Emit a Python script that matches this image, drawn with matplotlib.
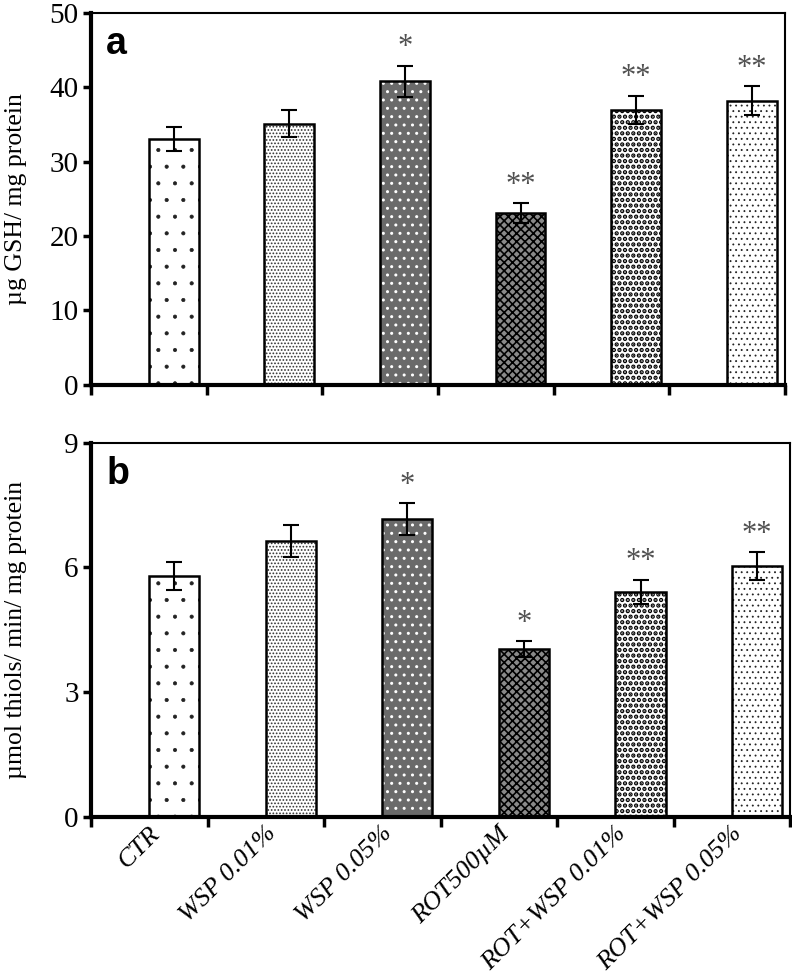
import matplotlib
matplotlib.use("Agg")
import matplotlib.pyplot as plt
import matplotlib.transforms as mtransforms
import numpy as np

categories = ["CTR", "WSP 0.01%", "WSP 0.05%", "ROT500\u00b5M", "ROT+WSP 0.01%", "ROT+WSP 0.05%"]
gsh_vals = [33.0, 35.1, 40.8, 23.1, 36.9, 38.2]
gsh_err = [1.6, 1.8, 2.1, 1.3, 1.9, 1.9]
gsh_sig = ["", "", "*", "**", "**", "**"]
thiol_vals = [5.79, 6.63, 7.16, 4.04, 5.41, 6.03]
thiol_err = [0.34, 0.39, 0.39, 0.19, 0.29, 0.34]
thiol_sig = ["", "", "*", "*", "**", "**"]
gsh_ticks = [0, 10, 20, 30, 40, 50]
thiol_ticks = [0, 3, 6, 9]

plt.rcParams['font.family'] = ['Liberation Serif', 'DejaVu Serif']

styles = [
    dict(face='white', hatch='.', hcolor='#222222', hlw=0.5),
    dict(face='white', hatch='.....', hcolor='#333333', hlw=0.8),
    dict(face='#6a6a6a', hatch='..', hcolor='white', hlw=1.0),
    dict(face='#8a8a8a', hatch='xxxx', hcolor='black', hlw=1.2),
    dict(face='white', hatch='...', hcolor='black', hlw=2.2),
    dict(face='white', hatch='...', hcolor='#222222', hlw=0.6),
]

fig = plt.figure(figsize=(7.92, 9.77), dpi=100)
ax_a = fig.add_axes([0.115, 0.606, 0.876, 0.381])
ax_b = fig.add_axes([0.115, 0.164, 0.883, 0.383])

x = np.arange(len(categories))
bw = 0.43

def draw(ax, vals, errs, sigs, ticks, ylabel, letter, sig_off, show_labels):
    for i, (v, e) in enumerate(zip(vals, errs)):
        st = styles[i]
        with plt.rc_context({'hatch.linewidth': st['hlw']}):
            ax.bar(x[i], v, width=bw, color=st['face'], edgecolor=st['hcolor'],
                   hatch=st['hatch'], linewidth=0, zorder=2)
        ax.bar(x[i], v, width=bw, fill=False, edgecolor='black', linewidth=1.8, zorder=3)
        ax.errorbar(x[i], v, yerr=e, fmt='none', ecolor='black', elinewidth=1.5,
                    capsize=5.5, capthick=1.5, zorder=4)
        if sigs[i]:
            ax.text(x[i], v + e + sig_off, sigs[i], ha='center', va='bottom',
                    fontsize=22, color='#505050', zorder=5)
    ax.set_ylim(ticks[0], ticks[-1])
    ax.set_yticks(ticks)
    ax.set_xlim(-0.714, 5.286)
    ax.set_xticks(np.arange(7) - 0.714)
    ax.set_xticklabels([])
    ax.tick_params(axis='y', direction='out', length=6, width=2.5, labelsize=21, pad=3)
    ax.tick_params(axis='x', direction='out', length=7, width=2.5)
    for s in ['left', 'bottom']:
        ax.spines[s].set_linewidth(3)
    for s in ['top', 'right']:
        ax.spines[s].set_linewidth(1.5)
    ax.set_ylabel(ylabel, fontsize=18.5)
    ax.text(0.022, 0.965, letter, transform=ax.transAxes, fontsize=27,
            fontweight='bold', family='Liberation Sans', ha='left', va='top')
    if show_labels:
        ax.set_xticks(x, minor=True)
        ax.set_xticklabels(categories, minor=True, rotation=45, ha='right',
                           rotation_mode='anchor', fontsize=19, style='italic')
        ax.tick_params(axis='x', which='minor', length=0, pad=4)
        off = mtransforms.ScaledTranslation(-26 / 100, 0, fig.dpi_scale_trans)
        for lab in ax.get_xticklabels(minor=True):
            lab.set_transform(lab.get_transform() + off)

draw(ax_a, gsh_vals, gsh_err, gsh_sig, gsh_ticks, "\u00b5g GSH/ mg protein", "a", 0.5, False)
draw(ax_b, thiol_vals, thiol_err, thiol_sig, thiol_ticks, "\u00b5mol thiols/ min/ mg protein", "b", 0.08, True)
ax_a.yaxis.set_label_coords(-0.092, 0.5)
ax_b.yaxis.set_label_coords(-0.091, 0.5)

fig.savefig("out.png", dpi=100)
